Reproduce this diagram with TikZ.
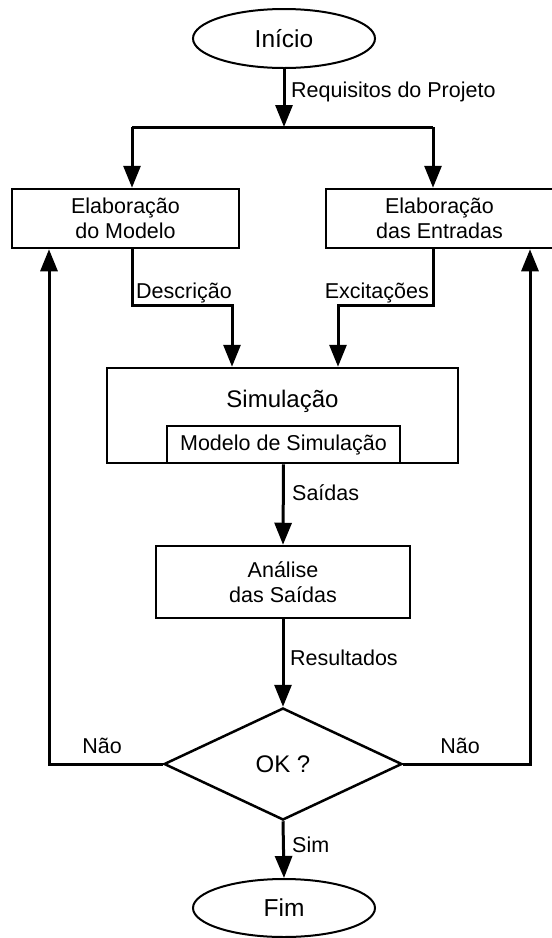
\documentclass[tikz,border=0pt]{standalone}
\usepackage{fontspec}
\setmainfont{Liberation Sans}
\usetikzlibrary{shapes.geometric,arrows.meta}

\begin{document}
\begin{tikzpicture}[x=1pt,y=-1pt,
        every node/.style={font=\fontsize{21.5}{25}\selectfont},
        box/.style={draw,line width=2.5pt,rectangle,inner sep=0pt,align=center},
        term/.style={draw,line width=2pt,ellipse,inner sep=0pt,minimum width=182pt,minimum height=59pt,font=\fontsize{24.5}{28}\selectfont},
        arr/.style={line width=3pt,-{Triangle[width=17pt,length=22pt]}},
        lbl/.style={inner sep=2pt}]
                    \useasboundingbox (0,0) rectangle (552,938);

                    \node[term] (start) at (284,38.5) {Início};
                    \node[box,minimum width=227pt,minimum height=59pt] (model) at (125.5,218.5) {Elaboração\\do Modelo};
                    \node[box,minimum width=227pt,minimum height=59pt] (inputs) at (439.5,218.5) {Elaboração\\das Entradas};
                    \node[box,minimum width=351pt,minimum height=95pt] (sim) at (282.5,415.5) {};
                    \node[font=\fontsize{24}{28}\selectfont] (simtitle) at (282.5,401) {Simulação};
                    \node[box,minimum width=233pt,minimum height=37pt] (simmodel) at (283.5,444.5) {Modelo de Simulação};
                    \node[box,minimum width=254pt,minimum height=72pt] (analysis) at (283,582) {Análise\\das Saídas};
                    \node[draw,diamond,line width=2.5pt,inner sep=0pt,minimum width=238pt,minimum height=112pt,font=\fontsize{24}{28}\selectfont] (test) at (283,764) {OK ?};
                    \node[term,minimum height=58pt] (stop) at (284,908) {Fim};

                    \coordinate (bus) at (284,127);
                    \coordinate (busL) at (132,127);
                    \coordinate (busR) at (433,127);
                    \coordinate (descr) at (232,305);
                    \coordinate (excit) at (338,305);
                    \coordinate (loopL) at (49,764);
                    \coordinate (loopR) at (530,764);

                    \draw[arr] (start) -- (bus);
                    \draw[line width=3pt] (busL) -- (busR);
                    \draw[arr] (busL) -- (busL |- model.north);
                    \draw[arr] (busR) -- (busR |- inputs.north);
                    \draw[arr] (busL |- model.south) |- (descr) -- (descr |- sim.north);
                    \draw[arr] (busR |- inputs.south) |- (excit) -- (excit |- sim.north);
                    \draw[arr] (simmodel.south) -- (analysis.north);
                    \draw[arr] (analysis.south) -- (test.north);
                    \draw[arr] (test.south) -- (stop.north);
                    \draw[arr] (test.west) -- (loopL) -- (loopL |- model.south);
                    \draw[arr] (test.east) -- (loopR) -- (loopR |- inputs.south);

                    \node[lbl,anchor=west] (reqlbl) at (289,92) {Requisitos do Projeto};
                    \node[lbl,anchor=south east] (descrlbl) at (234,305) {Descrição};
                    \node[lbl,anchor=south east] (excitlbl) at (431,305) {Excitações};
                    \node[lbl,anchor=west] (outlbl) at (290,493) {Saídas};
                    \node[lbl,anchor=west] (reslbl) at (288,658) {Resultados};
                    \node[lbl] (nolblL) at (102,746) {Não};
                    \node[lbl] (nolblR) at (460,746) {Não};
                    \node[lbl,anchor=west] (yeslbl) at (290,845) {Sim};
\end{tikzpicture}
\end{document}
